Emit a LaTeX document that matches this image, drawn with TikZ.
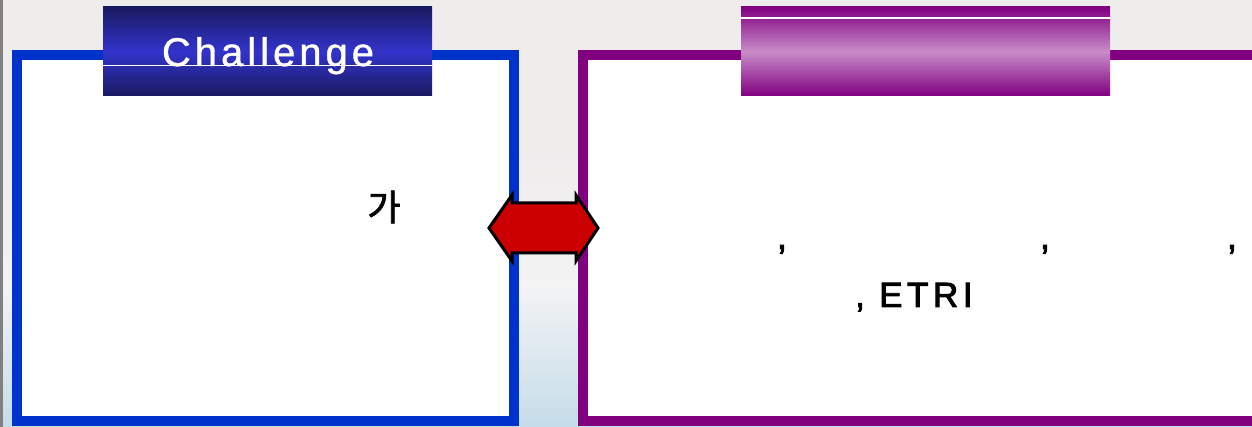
\documentclass[tikz,border=0pt]{standalone}
\usepackage{fontspec}
\setmainfont{Liberation Sans}
\newfontfamily\titlefont[LetterSpace=10,FakeBold=1]{Liberation Sans}
\newfontfamily\bodyfont[LetterSpace=13,FakeBold=2.5]{Liberation Sans}
\newfontfamily\kofont[FakeBold=2]{Noto Sans CJK KR}
\definecolor{boxblue}{HTML}{0033CC}
\definecolor{boxpurple}{HTML}{800080}
\definecolor{navydark}{HTML}{1A1A62}
\definecolor{navylight}{HTML}{3333CC}
\definecolor{purplelight}{HTML}{C88CC8}
\definecolor{arrowred}{HTML}{CC0000}
\definecolor{bggrey}{HTML}{EFECEC}
\definecolor{bgmid}{HTML}{F3F3F4}
\definecolor{bgblue}{HTML}{C5DCE9}
\begin{document}
\begin{tikzpicture}[x=1pt,y=1pt,
    frame/.style={line width=10pt,fill=white},
    txt/.style={inner sep=0pt,anchor=base}]
    \useasboundingbox (0,0) rectangle (1252,427);
    % background
    \fill[bggrey] (0,0) rectangle (1252,427);
    \shade[top color=bggrey,bottom color=bgblue,middle color=bgmid] (0,0) rectangle (1252,280);
    \fill[gray] (0,0) rectangle (3,427);
    % boxes
    \draw[frame,draw=boxblue] (17,6) rectangle (514,372);
    \draw[frame,draw=boxpurple] (583,6) rectangle (1262,372);
    % headers
    \shade[top color=navydark,bottom color=navydark,middle color=navylight] (103,331) rectangle (432,420);
    \shade[top color=boxpurple,bottom color=boxpurple,middle color=purplelight] (741,331) rectangle (1110,420);
    \draw[white,line width=1pt] (103,361) -- (432,361);
    \draw[white,line width=1.5pt] (741,409) -- (1110,409);
    \node[txt,text=white] (challenge) at (268,361) {\titlefont\fontsize{40}{48}\selectfont Challenge};
    % double arrow
    \draw[fill=arrowred,line width=3pt] (489,199) -- (512,232) -- (512,224) -- (576,224) -- (576,232)
        -- (598,199) -- (576,166) -- (576,174) -- (512,174) -- (512,166) -- cycle;
    % texts
    \node[inner sep=0pt] (ka) at (384,220) {\kofont\fontsize{36}{40}\selectfont 가};
    \foreach \x/\n in {782/a,1045/b,1232/c} {
        \node[txt] (comma\n) at (\x,178) {\bodyfont\fontsize{36}{40}\selectfont ,};
    }
    \node[txt,anchor=base west] (etri) at (855,120) {\bodyfont\fontsize{35}{40}\selectfont , ETRI};
\end{tikzpicture}
\end{document}
